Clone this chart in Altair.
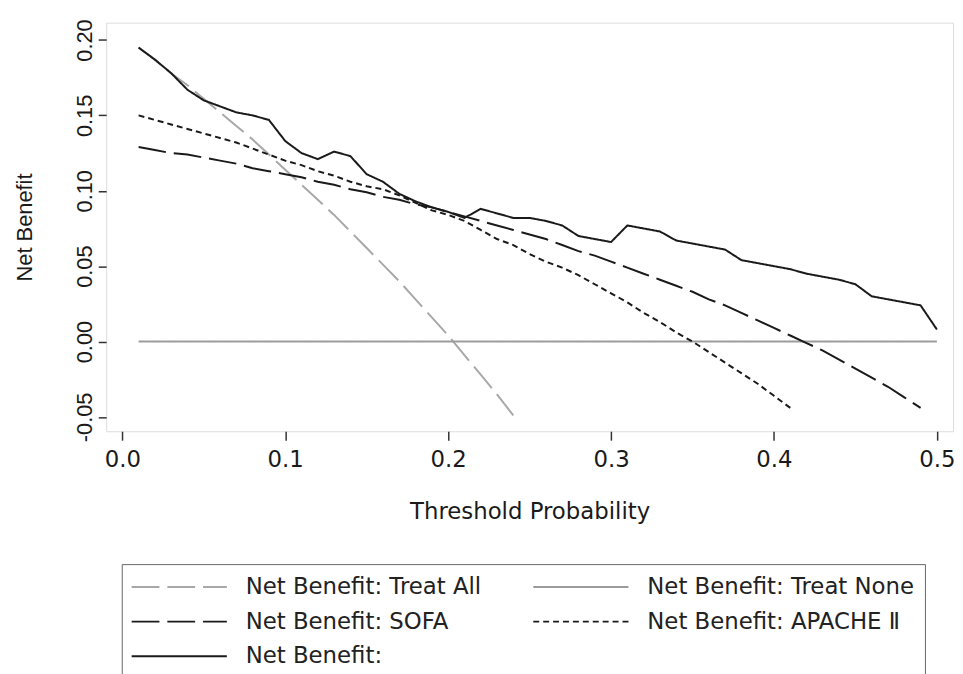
import altair as alt
import pandas as pd

# Threshold probabilities (x)
thresholds = [0.01, 0.02, 0.03, 0.04, 0.05, 0.06, 0.07, 0.08, 0.09, 0.10,
              0.11, 0.12, 0.13, 0.14, 0.15, 0.16, 0.17, 0.18, 0.19, 0.20,
              0.21, 0.22, 0.23, 0.24, 0.25, 0.26, 0.27, 0.28, 0.29, 0.30,
              0.31, 0.32, 0.33, 0.34, 0.35, 0.36, 0.37, 0.38, 0.39, 0.40,
              0.41, 0.42, 0.43, 0.44, 0.45, 0.46, 0.47, 0.48, 0.49, 0.50]

# Net benefit values
treat_all = [0.195, 0.187, 0.178, 0.170, 0.161, 0.152, 0.143, 0.134, 0.124, 0.114,
             0.104, 0.094, 0.084, 0.073, 0.062, 0.051, 0.040, 0.028, 0.016, 0.004,
             -0.009, -0.022, -0.035, -0.049]

treat_none = [0.0, 0.0, 0.0, 0.0, 0.0, 0.0, 0.0, 0.0, 0.0, 0.0,
              0.0, 0.0, 0.0, 0.0, 0.0, 0.0, 0.0, 0.0, 0.0, 0.0,
              0.0, 0.0, 0.0, 0.0, 0.0, 0.0, 0.0, 0.0, 0.0, 0.0,
              0.0, 0.0, 0.0, 0.0, 0.0, 0.0, 0.0, 0.0, 0.0, 0.0,
              0.0, 0.0, 0.0, 0.0, 0.0, 0.0, 0.0, 0.0, 0.0, 0.0]

sofa = [0.129, 0.127, 0.125, 0.124, 0.122, 0.120, 0.118, 0.115, 0.113, 0.111,
        0.109, 0.106, 0.104, 0.101, 0.099, 0.096, 0.094, 0.091, 0.089, 0.086,
        0.083, 0.080, 0.077, 0.074, 0.071, 0.068, 0.064, 0.060, 0.057, 0.053,
        0.049, 0.045, 0.041, 0.037, 0.033, 0.028, 0.024, 0.019, 0.014, 0.009,
        0.004, -0.001, -0.006, -0.012, -0.018, -0.024, -0.030, -0.037, -0.044]

apache = [0.150, 0.147, 0.144, 0.141, 0.138, 0.135, 0.132, 0.128, 0.124, 0.120,
          0.117, 0.113, 0.110, 0.106, 0.103, 0.101, 0.097, 0.092, 0.087, 0.084,
          0.080, 0.074, 0.068, 0.064, 0.058, 0.053, 0.049, 0.044, 0.038, 0.032,
          0.026, 0.019, 0.013, 0.006, 0.000, -0.007, -0.014, -0.021, -0.028, -0.036,
          -0.044]

model = [0.195, 0.187, 0.178, 0.167, 0.160, 0.156, 0.152, 0.150, 0.147, 0.133,
         0.125, 0.121, 0.126, 0.123, 0.111, 0.106, 0.098, 0.093, 0.089, 0.086,
         0.082, 0.088, 0.085, 0.082, 0.082, 0.080, 0.077, 0.070, 0.068, 0.066,
         0.077, 0.075, 0.073, 0.067, 0.065, 0.063, 0.061, 0.054, 0.052, 0.050,
         0.048, 0.045, 0.043, 0.041, 0.038, 0.030, 0.028, 0.026, 0.024, 0.008]

series_names = ["Net Benefit: Treat All", "Net Benefit: Treat None",
                "Net Benefit: SOFA", "Net Benefit: APACHE \u2161",
                "Net Benefit:"]
series_values = [treat_all, treat_none, sofa, apache, model]
series_colors = ["#a8a8a8", "#9c9c9c", "#1a1a1a", "#1a1a1a", "#1a1a1a"]
series_dashes = [[28, 8], [1, 0], [28, 8], [6, 4], [1, 0]]

rows = []
for name, vals in zip(series_names, series_values):
    for t, v in zip(thresholds, vals):
        rows.append({"pt": t, "nb": v, "series": name})
df = pd.DataFrame(rows)

FONT_V = "Liberation Sans, Arial, Noto Sans CJK SC"
FONT_H = "DejaVu Sans, Noto Sans CJK SC"

legend = alt.Legend(
    title=None, orient="none", legendX=15.7, legendY=546,
    direction="horizontal", columns=2,
    symbolType="M-4,0H4", symbolSize=576, symbolStrokeWidth=2,
    symbolOffset=35,
    labelFontSize=23, labelFont=FONT_H, labelColor="#222222",
    labelOffset=54, columnPadding=48, rowPadding=10, padding=10,
    strokeColor="#666666", fillColor="white", labelLimit=500,
)

chart = alt.Chart(df).mark_line(strokeWidth=2, clip=True).encode(
    x=alt.X("pt:Q",
            scale=alt.Scale(domain=[-0.0099, 0.5099], nice=False, zero=False),
            axis=alt.Axis(values=[0.0, 0.1, 0.2, 0.3, 0.4, 0.5], format=".1f",
                          title="Threshold Probability", grid=False, domain=False,
                          tickSize=9, tickWidth=1.5, tickColor="#333333",
                          labelFontSize=23, titleFontSize=23, labelPadding=9,
                          titlePadding=29, labelFont=FONT_H, titleFont=FONT_H,
                          labelColor="#1a1a1a", titleColor="#1a1a1a",
                          titleFontWeight="normal")),
    y=alt.Y("nb:Q",
            scale=alt.Scale(domain=[-0.0595, 0.2115], nice=False, zero=False),
            axis=alt.Axis(values=[-0.05, 0.0, 0.05, 0.10, 0.15, 0.20],
                          labelExpr="replace(format(datum.value, '.2f'), '\u2212', '-')",
                          title="Net Benefit", grid=False, domain=False,
                          tickSize=8, tickWidth=1.5, tickColor="#333333",
                          labelAngle=270, labelAlign="center", labelBaseline="bottom",
                          labelFontSize=22, titleFontSize=22, labelPadding=2,
                          titlePadding=37, labelFont=FONT_V, titleFont=FONT_V,
                          labelColor="#1a1a1a", titleColor="#1a1a1a",
                          titleFontWeight="normal")),
    color=alt.Color("series:N",
                    scale=alt.Scale(domain=series_names, range=series_colors),
                    legend=legend),
    strokeDash=alt.StrokeDash("series:N",
                              scale=alt.Scale(domain=series_names, range=series_dashes),
                              legend=legend),
    order=alt.Order("pt:Q"),
).properties(
    width=854, height=412,
    autosize=alt.AutoSizeParams(type="none"),
    padding={"left": 99, "top": 12, "right": 2, "bottom": 242},
).configure_view(
    stroke="#333333", strokeWidth=1.5
).configure(background="white")

chart.save("out.html", embed_options={"renderer": "svg", "actions": False})
